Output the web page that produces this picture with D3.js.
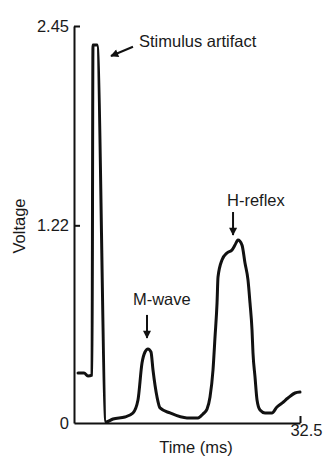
<!DOCTYPE html>
<html>
<head>
<meta charset="utf-8">
<script src="https://cdn.jsdelivr.net/npm/d3@7"></script>
<style>
  html, body { margin: 0; padding: 0; background: #fff; }
  svg { display: block; }
  text { font-family: "Liberation Sans", Arial, Helvetica, sans-serif; fill: #1a1a1a; }
</style>
</head>
<body>
<svg id="chart" width="325" height="456"></svg>
<script>
// EMG trace: time (ms) and voltage samples
const timeMs = [0.58, 1.44, 2.01, 2.59, 2.73, 3.31, 4.60, 5.61, 7.33, 8.48, 9.20, 9.78, 10.21, 10.64,
  11.07, 11.36, 11.94, 12.37, 13.81, 16.25, 17.83, 18.55, 19.13, 19.56, 19.99, 20.28, 20.57, 20.71,
  21.28, 22.00, 22.72, 23.15, 23.58, 24.16, 24.59, 25.02, 25.31, 25.60, 25.74, 26.03, 26.32, 26.75,
  27.47, 28.47, 29.19, 29.91, 30.77, 31.78, 32.50];
const voltage = [0.309, 0.309, 0.290, 0.296, 2.333, 2.333, 0.006, 0.025, 0.037, 0.062, 0.142, 0.370, 0.438, 0.457,
  0.438, 0.327, 0.160, 0.093, 0.062, 0.031, 0.031, 0.056, 0.086, 0.160, 0.327, 0.531, 0.741, 0.901,
  1.006, 1.049, 1.068, 1.098, 1.129, 1.098, 0.987, 0.883, 0.741, 0.574, 0.432, 0.284, 0.142, 0.080,
  0.062, 0.062, 0.099, 0.123, 0.154, 0.185, 0.191];

// Axis ticks
const yTicks = [0, 1.22, 2.45];
const xTicks = [32.5];
const xMax = 32.5;
const yMax = 2.45;

// Annotations (arrow tip / tail and label anchor, in data units)
const annoLabels = ["Stimulus artifact", "M-wave", "H-reflex"];
const annoTipT = [5.32, 10.50, 22.87];
const annoTipV = [2.265, 0.525, 1.160];
const annoTailT = [8.48, 10.50, 22.87];
const annoTailV = [2.322, 0.667, 1.302];
const annoTextT = [9.35, 8.48, 22.00];
const annoTextV = [2.32, 0.728, 1.339];

const svg = d3.select("#chart");
const x = d3.scaleLinear().domain([0, xMax]).range([74, 300]);
const y = d3.scaleLinear().domain([0, yMax]).range([423, 26]);

const ink = "#111";

// arrow head marker
svg.append("defs").append("marker")
  .attr("id", "head")
  .attr("viewBox", "0 0 10 10")
  .attr("refX", 9).attr("refY", 5)
  .attr("markerUnits", "userSpaceOnUse")
  .attr("markerWidth", 9).attr("markerHeight", 8)
  .attr("orient", "auto")
  .append("path").attr("d", "M0,0 L10,5 L0,10 Z").attr("fill", ink);

// y axis
const yAxis = d3.axisLeft(y).tickValues(yTicks)
  .tickFormat(d => d === 0 ? "0" : d3.format(".2f")(d))
  .tickSize(-6).tickSizeOuter(0).tickPadding(5);
const gy = svg.append("g").attr("transform", `translate(${x(0)},0)`).call(yAxis);
gy.select(".domain").attr("stroke", ink).attr("stroke-width", 2);
gy.selectAll(".tick line").attr("stroke", ink).attr("stroke-width", 2);
gy.selectAll(".tick text").attr("font-size", 16.5).attr("fill", "#1a1a1a")
  .style("font-family", "'Liberation Sans', Arial, sans-serif");
gy.selectAll(".tick").filter(d => d === 0).select("line").remove();

// x axis
const xAxis = d3.axisBottom(x).tickValues(xTicks)
  .tickFormat(d3.format(".1f"))
  .tickSize(-7).tickSizeOuter(0).tickPadding(0);
const gx = svg.append("g").attr("transform", `translate(0,${y(0)})`).call(xAxis);
gx.select(".domain").attr("stroke", ink).attr("stroke-width", 2);
gx.selectAll(".tick line").attr("stroke", ink).attr("stroke-width", 2);
gx.selectAll(".tick text").attr("font-size", 16.5).attr("fill", "#1a1a1a")
  .attr("dx", 6).attr("dy", "0.78em")
  .style("font-family", "'Liberation Sans', Arial, sans-serif");

// axis titles
svg.append("text").attr("x", 196).attr("y", 453)
  .attr("text-anchor", "middle").attr("font-size", 16.5).text("Time (ms)");
svg.append("text").attr("transform", "translate(25,226) rotate(-90)")
  .attr("text-anchor", "middle").attr("font-size", 16.5).text("Voltage");

// trace
const pts = timeMs.map((t, i) => [t, voltage[i]]);
const line = d3.line().x(d => x(d[0])).y(d => y(d[1])).curve(d3.curveMonotoneX);
svg.append("path").datum(pts)
  .attr("d", line)
  .attr("fill", "none")
  .attr("stroke", ink)
  .attr("stroke-width", 3)
  .attr("stroke-linejoin", "round")
  .attr("stroke-linecap", "round");

// annotations
annoLabels.forEach((lab, i) => {
  svg.append("line")
    .attr("x1", x(annoTailT[i])).attr("y1", y(annoTailV[i]))
    .attr("x2", x(annoTipT[i])).attr("y2", y(annoTipV[i]))
    .attr("stroke", ink).attr("stroke-width", 2)
    .attr("marker-end", "url(#head)");
  svg.append("text")
    .attr("x", x(annoTextT[i])).attr("y", y(annoTextV[i]))
    .attr("font-size", 16.5).text(lab);
});
</script>
</body>
</html>
